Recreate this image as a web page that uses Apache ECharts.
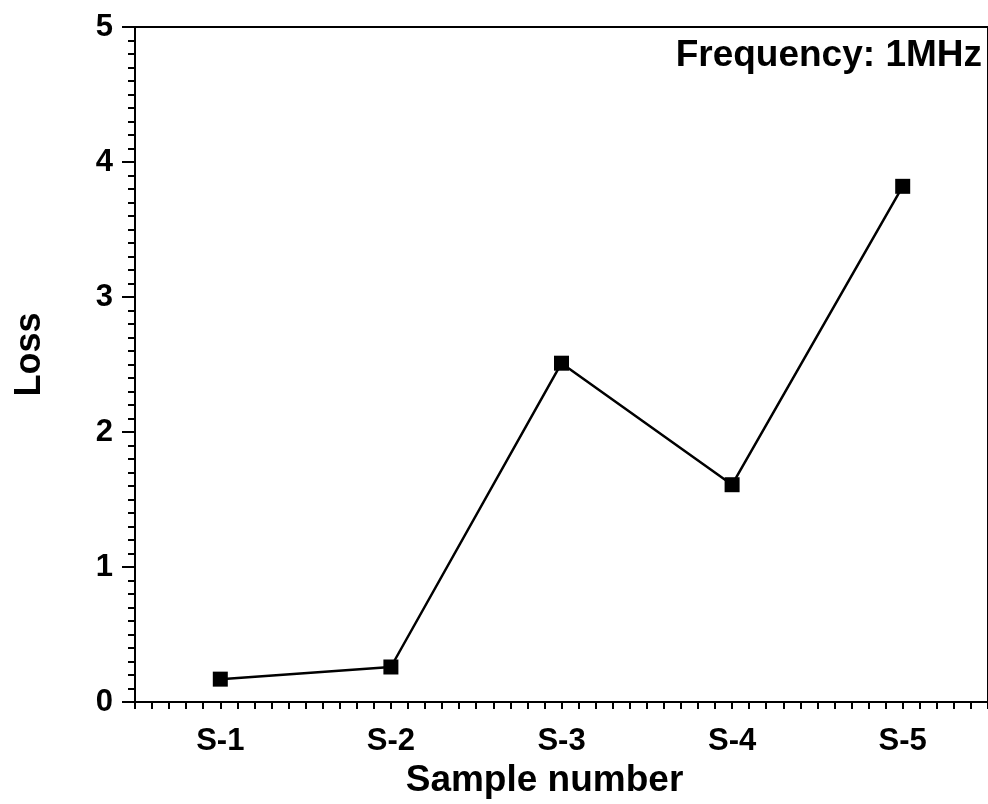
<!DOCTYPE html>
<html>
<head>
<meta charset="utf-8">
<title>Loss vs sample</title>
<script src="https://cdn.jsdelivr.net/npm/echarts@6/dist/echarts.min.js"></script>
<style>
    html, body { margin: 0; padding: 0; background: #fff; overflow: hidden; }
    #chart { width: 988px; height: 804px; }
</style>
</head>
<body>
<div id="chart"></div>
<script>
    // data
    const samples = ["S-1", "S-2", "S-3", "S-4", "S-5"];
    const lossValues = [0.17, 0.26, 2.51, 1.61, 3.82];
    const yTicks = [0, 1, 2, 3, 4, 5];
    const noteText = "Frequency: 1MHz";

    const font = "'Liberation Sans', Arial, sans-serif";
    const chart = echarts.init(document.getElementById("chart"));

    const option = {
        backgroundColor: "#fff",
        animation: false,
        grid: {
            left: 135,
            top: 27,
            width: 857,
            height: 690,
            show: true,
            borderColor: "#000",
            borderWidth: 2
        },
        graphic: [
            {
                type: "text",
                right: 6,
                top: 37,
                style: {
                    text: noteText,
                    font: "bold 37px " + font,
                    fill: "#000"
                }
            }
        ],
        xAxis: [
            {
                type: "category",
                data: samples,
                boundaryGap: true,
                position: "bottom",
                name: "Sample number",
                nameLocation: "middle",
                nameGap: 49,
                nameTextStyle: {
                    fontFamily: font,
                    fontWeight: "bold",
                    fontSize: 37,
                    color: "#000",
                    padding: [0, 34, 0, 0]
                },
                axisLine: { lineStyle: { color: "#000", width: 2 } },
                axisTick: {
                    alignWithLabel: true,
                    length: 13,
                    lineStyle: { color: "#000", width: 2 }
                },
                axisLabel: {
                    margin: 24,
                    fontFamily: font,
                    fontWeight: "bold",
                    fontSize: 31,
                    color: "#000"
                },
                splitLine: { show: false }
            },
            {
                // minor ticks along the bottom
                type: "value",
                position: "bottom",
                offset: 0,
                min: 0,
                max: 50,
                interval: 1,
                axisLine: { show: true, lineStyle: { color: "#000", width: 2 } },
                axisTick: { length: 7, lineStyle: { color: "#000", width: 2 } },
                axisLabel: { show: false },
                splitLine: { show: false }
            }
        ],
        yAxis: {
            type: "value",
            min: yTicks[0],
            max: yTicks[yTicks.length - 1],
            interval: 1,
            name: "Loss",
            nameLocation: "middle",
            nameGap: 87,
            nameTextStyle: {
                fontFamily: font,
                fontWeight: "bold",
                fontSize: 36,
                color: "#000",
                padding: [0, 0, 0, 20]
            },
            axisLine: { show: true, lineStyle: { color: "#000", width: 2 } },
            axisTick: { show: true, length: 13, lineStyle: { color: "#000", width: 2 } },
            minorTick: {
                show: true,
                splitNumber: 10,
                length: 7,
                lineStyle: { color: "#000", width: 2 }
            },
            axisLabel: {
                margin: 22,
                fontFamily: font,
                fontWeight: "bold",
                fontSize: 31,
                color: "#000"
            },
            splitLine: { show: false },
            minorSplitLine: { show: false }
        },
        series: [
            {
                name: "Loss",
                type: "line",
                xAxisIndex: 0,
                data: lossValues,
                symbol: "rect",
                symbolSize: 15,
                itemStyle: { color: "#000" },
                lineStyle: { color: "#000", width: 2.5 }
            }
        ]
    };
    chart.setOption(option);
</script>
</body>
</html>
